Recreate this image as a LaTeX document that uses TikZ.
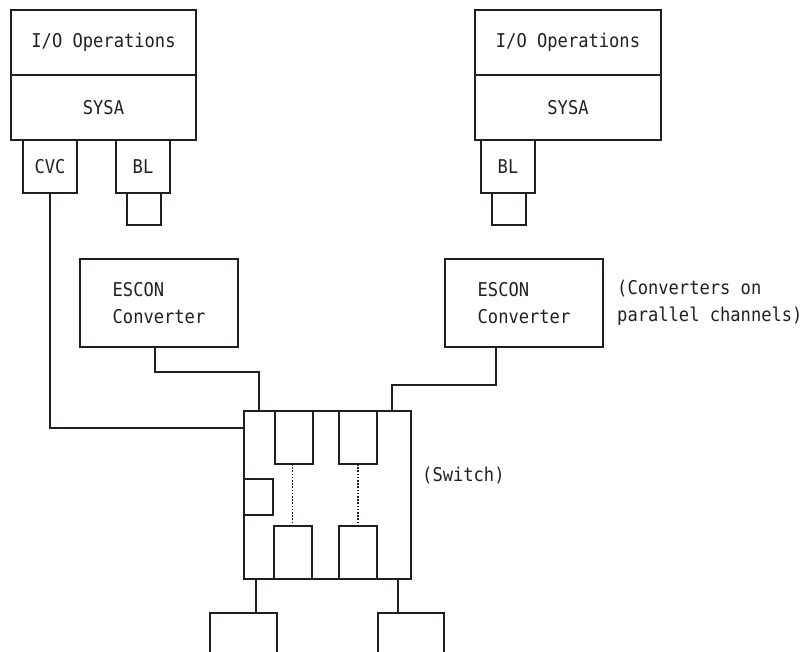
\documentclass[tikz,border=0pt]{standalone}
\usepackage{fontspec}
\setmonofont[FakeStretch=0.9]{DejaVu Sans Mono}
\usetikzlibrary{positioning, calc}
\usepackage{xcolor}
\definecolor{ibmink}{HTML}{231F20}
\tikzset{
  unit/.style={draw=ibmink, line width=1.4pt, inner sep=0pt, outer sep=0pt,
               text=ibmink, font=\ttfamily\fontsize{19}{27}\selectfont},
  port/.style={unit, minimum width=38pt, minimum height=53pt},
  note/.style={text=ibmink, font=\ttfamily\fontsize{19}{27}\selectfont,
               align=left, anchor=west, inner sep=0pt},
  wire/.style={draw=ibmink, line width=1.4pt},
  link/.style={draw=ibmink, line width=1.4pt, dash pattern=on 1.6pt off 1.6pt},
}

\begin{document}
\begin{tikzpicture}[x=1pt, y=-1pt]
      \useasboundingbox (0,0) rectangle (810,651);
      \node[unit, minimum width=185pt, minimum height=65pt] (ioa) at (103.5,42.5) {I/O Operations};
      \node[unit, minimum width=185pt, minimum height=65pt] (sysa) at (103.5,107.5) {SYSA};
      \node[unit, minimum width=54pt, minimum height=53pt] (cvc) at (50,166.5) {CVC};
      \node[unit, minimum width=54pt, minimum height=53pt] (bla) at (143,166.5) {BL};
      \node[unit, minimum width=34pt, minimum height=32pt] (pluga) at (144,209) {};
      \node[unit, minimum width=186pt, minimum height=65pt] (iob) at (568,42.5) {I/O Operations};
      \node[unit, minimum width=186pt, minimum height=65pt] (sysb) at (568,107.5) {SYSA};
      \node[unit, minimum width=54pt, minimum height=53pt] (blb) at (508,166.5) {BL};
      \node[unit, minimum width=34pt, minimum height=32pt] (plugb) at (509,209) {};
      \node[unit, minimum width=158pt, minimum height=88pt, align=left] (esca) at (159,303) {ESCON\\Converter};
      \node[unit, minimum width=158pt, minimum height=88pt, align=left] (escb) at (524,303) {ESCON\\Converter};
      \node[note] (convnote) at (617,303) {(Converters on\\parallel channels)};
      \node[unit, minimum width=167pt, minimum height=168pt] (sw) at (327.5,495) {};
      \node[note] (swnote) at (422,476) {(Switch)};
      \node[port] (pta) at (294,437.5) {};
      \node[port] (ptb) at (358,437.5) {};
      \node[port] (pba) at (293,552.5) {};
      \node[port] (pbb) at (358,552.5) {};
      \node[unit, minimum width=29pt, minimum height=36pt] (pside) at (258.5,497) {};
      \node[unit, minimum width=67pt, minimum height=70pt] (deva) at (243.5,648) {};
      \node[unit, minimum width=66pt, minimum height=70pt] (devb) at (411,648) {};
      \draw[wire] (cvc.south) |- ([yshift=-17pt]sw.north west);
      \draw[wire] ([xshift=-4pt]esca.south) -- ++(0,25) -| ([xshift=15pt]sw.north west);
      \draw[wire] ([xshift=-28pt]escb.south) -- ++(0,38) -| ([xshift=-19pt]sw.north east);
      \draw[wire] ([xshift=12pt]sw.south west) -- ([xshift=12pt]sw.south west |- deva.north);
      \draw[wire] ([xshift=-13pt]sw.south east) -- ([xshift=-13pt]sw.south east |- devb.north);
      \draw[link] ([xshift=-1.5pt]pta.south) -- ([xshift=-1.5pt]pta.south |- pba.north);
      \draw[link] (ptb.south) -- (pbb.north);
    \end{tikzpicture}
\end{document}
